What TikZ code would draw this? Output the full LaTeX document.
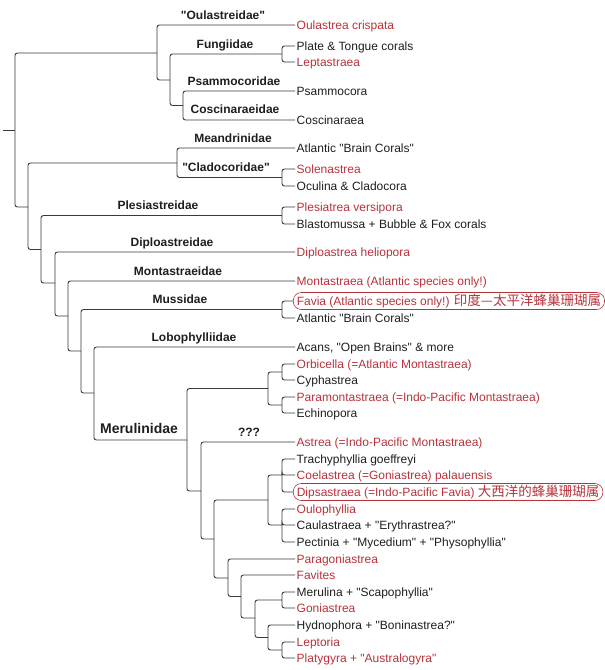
\documentclass[tikz,border=0pt]{standalone}
\usepackage{fontspec}
\setmainfont{Liberation Sans}[Ligatures=TeXOff]
\newfontfamily\cjk{Noto Sans CJK SC}
\definecolor{sp}{HTML}{B8323A}
\definecolor{ln}{HTML}{3A3A3A}
\definecolor{tx}{HTML}{1E1E1E}
\begin{document}
\begin{tikzpicture}[x=1pt,y=-1pt,
  br/.style={draw=ln,line width=0.9pt,rounded corners=2.5pt},
  leaf/.style={anchor=west,inner xsep=1.5pt,inner ysep=0pt,font=\fontsize{12}{14}\selectfont,text height=8.6pt,text depth=0.5pt},
  bleaf/.style={leaf,text=tx},
  rleaf/.style={leaf,text=sp},
  boxed/.style={draw=sp,line width=0.6pt,rounded corners=8pt,inner xsep=3.5pt,minimum height=17pt},
  fam/.style={anchor=base,font=\bfseries\fontsize{12}{14}\selectfont,inner sep=0pt,text=tx}]
\useasboundingbox (0,0) rectangle (605,670);
% leaves
\node[rleaf] (l1) at (295,25) {Oulastrea crispata};
\node[bleaf] (l2) at (295,46) {Plate \& Tongue corals};
\node[rleaf] (l3) at (295,62) {Leptastraea};
\node[bleaf] (l4) at (295,91) {Psammocora};
\node[bleaf] (l5) at (295,120) {Coscinaraea};
\node[bleaf] (l6) at (295,148) {Atlantic "Brain Corals"};
\node[rleaf] (l7) at (295,169) {Solenastrea};
\node[bleaf] (l8) at (295,186) {Oculina \& Cladocora};
\node[rleaf] (l9) at (295,207) {Plesiatrea versipora};
\node[bleaf] (l10) at (295,224) {Blastomussa + Bubble \& Fox corals};
\node[rleaf] (l11) at (295,252) {Diploastrea heliopora};
\node[rleaf] (l12) at (295,281) {Montastraea (Atlantic species only!)};
\node[rleaf,boxed] (l13) at (293,301) {Favia (Atlantic species only!) {\cjk\fontsize{13.5}{14}\selectfont 印度—太平洋蜂巢珊瑚属}};
\node[bleaf] (l14) at (295,318) {Atlantic "Brain Corals"};
\node[bleaf] (l15) at (295,347) {Acans, "Open Brains" \& more};
\node[rleaf] (l16) at (295,364) {Orbicella (=Atlantic Montastraea)};
\node[bleaf] (l17) at (295,380) {Cyphastrea};
\node[rleaf] (l18) at (295,397) {Paramontastraea (=Indo-Pacific Montastraea)};
\node[bleaf] (l19) at (295,413) {Echinopora};
\node[rleaf] (l20) at (295,442) {Astrea (=Indo-Pacific Montastraea)};
\node[bleaf] (l21) at (295,459) {Trachyphyllia goeffreyi};
\node[rleaf] (l22) at (295,475) {Coelastrea (=Goniastrea) palauensis};
\node[rleaf,boxed] (l23) at (293,492) {Dipsastraea (=Indo-Pacific Favia) {\cjk\fontsize{13.5}{14}\selectfont 大西洋的蜂巢珊瑚属}};
\node[rleaf] (l24) at (295,509) {Oulophyllia};
\node[bleaf] (l25) at (295,525) {Caulastraea + "Erythrastrea?"};
\node[bleaf] (l26) at (295,542) {Pectinia + "Mycedium" + "Physophyllia"};
\node[rleaf] (l27) at (295,559) {Paragoniastrea};
\node[rleaf] (l28) at (295,575) {Favites};
\node[bleaf] (l29) at (295,592) {Merulina + "Scapophyllia"};
\node[rleaf] (l30) at (295,608) {Goniastrea};
\node[bleaf] (l31) at (295,625) {Hydnophora + "Boninastrea?"};
\node[rleaf] (l32) at (295,642) {Leptoria};
\node[rleaf] (l33) at (295,658) {Platygyra + "Australogyra"};
% internal nodes
\coordinate (r0) at (3,130);
\coordinate (r) at (15,130);
\coordinate (a) at (157,53);
\coordinate (b) at (170,80);
\coordinate (c) at (282,54);
\coordinate (d) at (183,105.5);
\coordinate (e) at (28,207);
\coordinate (f) at (177,163);
\coordinate (fb) at (282,177.5);
\coordinate (g) at (41,249.5);
\coordinate (gb) at (282,215.5);
\coordinate (h) at (55,283);
\coordinate (i) at (68,316);
\coordinate (j) at (81,351);
\coordinate (jb) at (282,309.5);
\coordinate (k) at (94,393);
\coordinate (m) at (187,440);
\coordinate (n) at (268,388.5);
\coordinate (nb1) at (282,372);
\coordinate (nb2) at (282,405);
\coordinate (o) at (201,491);
\coordinate (p) at (214,539);
\coordinate (q) at (268,500);
\coordinate (qb1) at (282,475);
\coordinate (qb2) at (282,525);
\coordinate (s) at (228,578);
\coordinate (t) at (241,596.5);
\coordinate (u) at (255,618);
\coordinate (ub) at (282,600);
\coordinate (v) at (268,637.5);
\coordinate (vb) at (282,650);
% connectors
\draw[br] (r0) -- (r);
\draw[br] (r) |- (a);
\draw[br] (r) |- (e);
\draw[br] (a) |- (l1.west);
\draw[br] (a) |- (b);
\draw[br] (b) |- (c);
\draw[br] (b) |- (d);
\draw[br] (c) |- (l2.west);
\draw[br] (c) |- (l3.west);
\draw[br] (d) |- (l4.west);
\draw[br] (d) |- (l5.west);
\draw[br] (e) |- (f);
\draw[br] (e) |- (g);
\draw[br] (f) |- (l6.west);
\draw[br] (f) |- (fb);
\draw[br] (fb) |- (l7.west);
\draw[br] (fb) |- (l8.west);
\draw[br] (g) |- (gb);
\draw[br] (g) |- (h);
\draw[br] (gb) |- (l9.west);
\draw[br] (gb) |- (l10.west);
\draw[br] (h) |- (l11.west);
\draw[br] (h) |- (i);
\draw[br] (i) |- (l12.west);
\draw[br] (i) |- (j);
\draw[br] (j) |- (jb);
\draw[br] (j) |- (k);
\draw[br] (jb) |- (l13.west);
\draw[br] (jb) |- (l14.west);
\draw[br] (k) |- (l15.west);
\draw[br] (k) |- (m);
\draw[br] (m) |- (n);
\draw[br] (m) |- (o);
\draw[br] (n) |- (nb1);
\draw[br] (n) |- (nb2);
\draw[br] (nb1) |- (l16.west);
\draw[br] (nb1) |- (l17.west);
\draw[br] (nb2) |- (l18.west);
\draw[br] (nb2) |- (l19.west);
\draw[br] (o) |- (l20.west);
\draw[br] (o) |- (p);
\draw[br] (p) |- (q);
\draw[br] (p) |- (s);
\draw[br] (q) |- (qb1);
\draw[br] (q) |- (qb2);
\draw[br] (qb1) |- (l21.west);
\draw[br] (qb1) |- (l22.west);
\draw[br] (qb1) |- (l23.west);
\draw[br] (qb2) |- (l24.west);
\draw[br] (qb2) |- (l25.west);
\draw[br] (qb2) |- (l26.west);
\draw[br] (s) |- (l27.west);
\draw[br] (s) |- (t);
\draw[br] (t) |- (l28.west);
\draw[br] (t) |- (u);
\draw[br] (u) |- (ub);
\draw[br] (u) |- (v);
\draw[br] (ub) |- (l29.west);
\draw[br] (ub) |- (l30.west);
\draw[br] (v) |- (l31.west);
\draw[br] (v) |- (vb);
\draw[br] (vb) |- (l32.west);
\draw[br] (vb) |- (l33.west);
% family labels
\node[fam] (f1) at (223,19.3) {"Oulastreidae"};
\node[fam] (f2) at (225,48.3) {Fungiidae};
\node[fam] (f3) at (234,85.3) {Psammocoridae};
\node[fam] (f4) at (235,113.3) {Coscinaraeidae};
\node[fam] (f5) at (233,142.3) {Meandrinidae};
\node[fam] (f6) at (226,171.3) {"Cladocoridae"};
\node[fam] (f7) at (158,209.3) {Plesiastreidae};
\node[fam] (f8) at (172,246.3) {Diploastreidae};
\node[fam] (f9) at (178,275.3) {Montastraeidae};
\node[fam] (f10) at (180,303.3) {Mussidae};
\node[fam] (f11) at (194,341.3) {Lobophylliidae};
\node[fam,font=\bfseries\fontsize{14}{16}\selectfont] (f12) at (139,433) {Merulinidae};
\node[fam] (f13) at (249,436.3) {???};
\end{tikzpicture}
\end{document}
